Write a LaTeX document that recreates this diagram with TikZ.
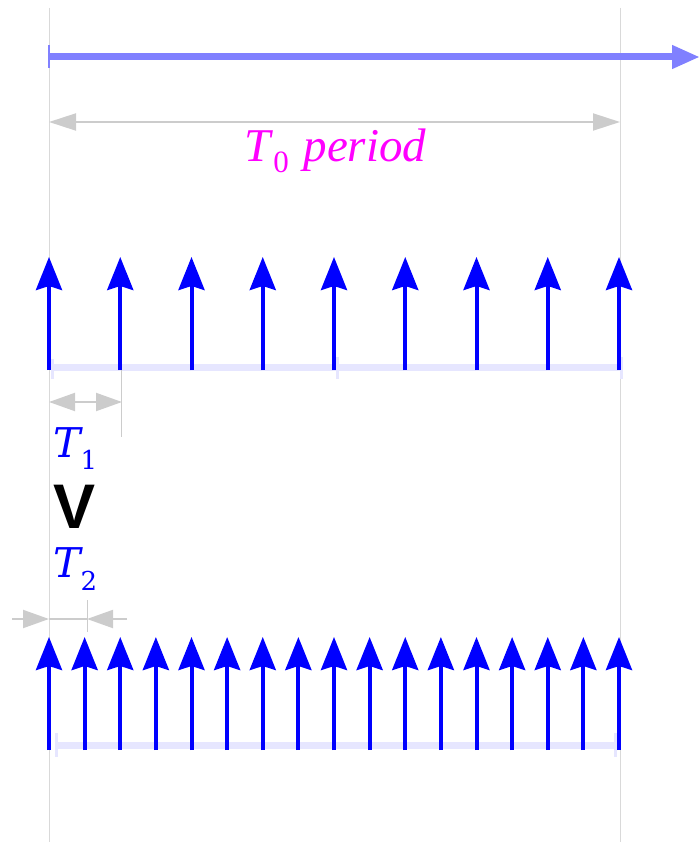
\documentclass[tikz,border=0pt]{standalone}
\usepackage{fontspec}
\usetikzlibrary{arrows.meta}
\newfontfamily\lserif{Liberation Serif}
\newfontfamily\dserif{DejaVu Serif}
\newfontfamily\lsans{Liberation Sans}
\definecolor{guidegray}{HTML}{D9D9D9}
\definecolor{dimgray}{HTML}{CCCCCC}
\definecolor{lav}{HTML}{E6E6FF}
\definecolor{axisblue}{HTML}{8080FF}
\definecolor{pulseblue}{HTML}{0000FF}
\definecolor{labmag}{HTML}{FF00FF}
\tikzset{
  dimtip/.tip={Triangle[length=26pt,width=18pt]},
  guide/.style={draw=guidegray, line width=1pt},
  dimline/.style={draw=dimgray, line width=2pt},
  pulse/.style={draw=pulseblue, line width=4pt, -{Stealth[length=33pt,width=26pt,inset=4pt]}},
  baseln/.style={draw=lav, line width=7pt},
  basetick/.style={draw=lav, line width=3pt},
  lab/.style={inner sep=0pt, anchor=base west},
}
\begin{document}
\begin{tikzpicture}[x=1pt,y=-1pt]
\useasboundingbox (0,0) rectangle (700,842);
% guides
\coordinate (gL1) at (49,8); \coordinate (gL2) at (49,842);
\coordinate (gR1) at (620,8); \coordinate (gR2) at (620,842);
\draw[guide] (gL1) -- (gL2);
\draw[guide] (gR1) -- (gR2);
% top axis arrow
\coordinate (axS) at (49,57); \coordinate (axE) at (700,57);
\draw[draw=axisblue, line width=7pt, -{Triangle[length=28pt,width=22pt]}] (axS) -- (axE);
\draw[draw=axisblue, line width=2pt] (49,45) -- (49,68);
% T0 dimension
\coordinate (t0a) at (49,122); \coordinate (t0b) at (620,122);
\draw[dimline, {Triangle[length=27pt,width=17pt]}-{Triangle[length=27pt,width=17pt]}] (t0a) -- (t0b);
\node[lab, text=labmag] (t0lab) at (244,162) {\fontsize{47}{50}\lserif\itshape T\kern3pt\raisebox{-11pt}{\fontsize{31}{33}\selectfont\upshape 0}\kern3pt\ period};
% upper baseline
\draw[baseln] (52,367) -- (337,367);
\draw[baseln] (337,367) -- (620,367);
\draw[basetick] (52,359) -- (52,379);
\draw[basetick] (337,357) -- (337,379);
\draw[basetick] (621,357) -- (621,379);
% upper pulses
\foreach \i in {0,...,8} {
  \pgfmathsetmacro{\xx}{49+\i*71.25}
  \coordinate (ua\i) at (\xx,370);
  \coordinate (ub\i) at (\xx,257);
  \draw[pulse] (ua\i) -- (ub\i);
}
% T1 dimension
\draw[guide, draw=dimgray] (121,370) -- (121,437);
\coordinate (t1a) at (49,402); \coordinate (t1b) at (122,402);
\draw[dimline, dimtip-dimtip] (t1a) -- (t1b);
\node[lab, text=pulseblue] (t1lab) at (53,457) {\fontsize{41}{44}\dserif\itshape T\raisebox{-12pt}{\fontsize{26}{28}\selectfont\upshape 1}};
% comparison sign
\node[lab] (cmp) at (53,528) {\fontsize{63}{65}\lsans\bfseries V};
% T2 label
\node[lab, text=pulseblue] (t2lab) at (53,577) {\fontsize{41}{44}\dserif\itshape T\raisebox{-13pt}{\fontsize{26}{28}\selectfont\upshape 2}};
% T2 dimension
\draw[guide, draw=dimgray] (87,600) -- (87,632);
\coordinate (t2o1) at (12,619); \coordinate (t2a) at (49,619);
\coordinate (t2b) at (87,619); \coordinate (t2o2) at (127,619);
\draw[dimline] (t2a) -- (t2b);
\draw[dimline, -dimtip] (t2o1) -- (t2a);
\draw[dimline, -dimtip] (t2o2) -- (t2b);
% lower baseline
\draw[baseln] (56,745) -- (615,745);
\draw[basetick] (56,733) -- (56,757);
\draw[basetick] (615,733) -- (615,757);
% lower pulses
\foreach \i in {0,...,16} {
  \pgfmathsetmacro{\xx}{49+\i*35.625}
  \coordinate (la\i) at (\xx,750);
  \coordinate (lb\i) at (\xx,637);
  \draw[pulse] (la\i) -- (lb\i);
}
\end{tikzpicture}
\end{document}
